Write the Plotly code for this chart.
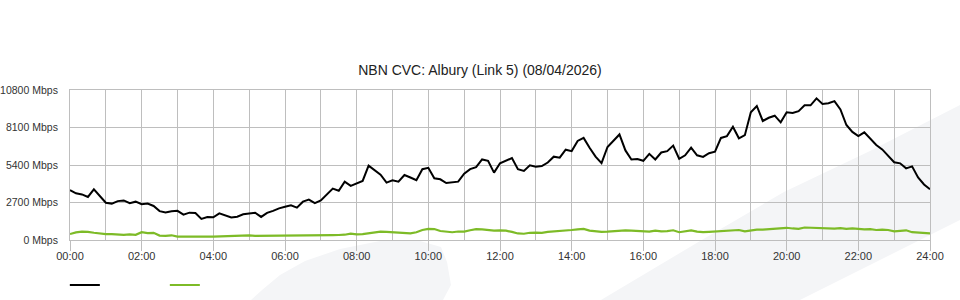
import plotly.graph_objects as go

# Time grid: 10-minute samples from 00:00 to 24:00 (hours)
step_minutes = 10
n_points = 145
hours = [i * step_minutes / 60 for i in range(n_points)]

tick_hours = [0, 2, 4, 6, 8, 10, 12, 14, 16, 18, 20, 22, 24]
tick_labels = ["00:00", "02:00", "04:00", "06:00", "08:00", "10:00", "12:00",
               "14:00", "16:00", "18:00", "20:00", "22:00", "24:00"]
y_ticks = [0, 2700, 5400, 8100, 10800]
y_tick_labels = ["0 Mbps", "2700 Mbps", "5400 Mbps", "8100 Mbps", "10800 Mbps"]

# Series 1 (black), Mbps
download = [
    3600, 3360, 3280, 3100, 3650, 3150,
    2680, 2620, 2800, 2850, 2650, 2760,
    2580, 2620, 2450, 2080, 1990, 2070,
    2100, 1830, 1970, 1940, 1520, 1650,
    1640, 1920, 1780, 1620, 1680, 1850,
    1900, 1960, 1660, 1950, 2100, 2280,
    2400, 2500, 2330, 2760, 2910, 2660,
    2850, 3300, 3700, 3550, 4200, 3900,
    4080, 4250, 5350, 5050, 4700, 4130,
    4300, 4200, 4680, 4500, 4300, 5100,
    5200, 4440, 4370, 4100, 4150, 4200,
    4780, 5100, 5250, 5800, 5700, 4850,
    5520, 5700, 5900, 5100, 4970, 5380,
    5280, 5320, 5580, 6000, 5930, 6500,
    6400, 7130, 7350, 6640, 6000, 5530,
    6700, 7150, 7600, 6450, 5800, 5830,
    5700, 6200, 5800, 6300, 6400, 6800,
    5850, 6100, 6650, 6100, 5980, 6250,
    6360, 7350, 7480, 8150, 7320, 7550,
    9200, 9650, 8570, 8800, 8950, 8470,
    9200, 9150, 9280, 9700, 9700, 10200,
    9800, 9850, 10000, 9400, 8280, 7780,
    7480, 7750, 7320, 6840, 6520, 6080,
    5600, 5520, 5160, 5300, 4500, 4000,
    3650,
]

# Series 2 (green), Mbps
upload = [
    430, 550, 600, 590, 520, 470,
    430, 430, 380, 370, 400, 370,
    560, 500, 520, 320, 300, 340,
    250, 240, 240, 240, 240, 240,
    250, 260, 300, 330, 330, 330,
    330, 300, 300, 340, 340, 320,
    330, 310, 310, 300, 320, 330,
    300, 340, 350, 360, 380, 460,
    400, 420, 470, 520, 600, 590,
    560, 560, 540, 480, 560, 720,
    800, 790, 650, 580, 560, 610,
    600, 700, 780, 760, 720, 680,
    700, 670, 580, 470, 450, 520,
    530, 520, 580, 610, 620, 700,
    720, 770, 800, 680, 620, 580,
    600, 650, 650, 700, 680, 650,
    620, 600, 680, 620, 640, 700,
    560, 620, 690, 600, 560, 580,
    600, 640, 650, 700, 720, 620,
    700, 750, 740, 780, 820, 880,
    880, 830, 800, 900, 880, 850,
    860, 850, 820, 860, 800, 830,
    780, 760, 780, 720, 740, 720,
    620, 680, 700, 560, 550, 520,
    480,
]

PLOT_L, PLOT_R, PLOT_T, PLOT_B = 70, 930, 90, 240
W, H = 960, 300


def px(x, y):
    """Convert page pixel position to paper coordinates (for decorations only)."""
    return ((x - PLOT_L) / (PLOT_R - PLOT_L), (PLOT_B - y) / (PLOT_B - PLOT_T))


def path(points):
    pts = [px(x, y) for x, y in points]
    return "M " + " L ".join(f"{a:.4f},{b:.4f}" for a, b in pts) + " Z"


band = path([(601, 300), (700, 241), (784, 192), (870, 151), (960, 105),
             (960, 220), (800, 300)])
blob = path([(251, 300), (262, 290), (280, 275), (305, 261), (340, 249),
             (380, 241), (420, 241), (441, 247), (447, 262), (451, 285),
             (443, 300)])

grid_col = "#bebebe"

fig = go.Figure()
fig.add_trace(go.Scatter(x=hours, y=download, mode="lines", name=" ",
                         line=dict(color="#000000", width=2)))
fig.add_trace(go.Scatter(x=hours, y=upload, mode="lines", name=" ",
                         line=dict(color="#7dbb27", width=2.2)))

fig.update_layout(
    width=W, height=H,
    margin=dict(l=PLOT_L, r=W - PLOT_R, t=PLOT_T, b=H - PLOT_B, autoexpand=False),
    paper_bgcolor="white",
    plot_bgcolor="rgba(0,0,0,0)",
    font=dict(family="Liberation Sans, Arial, sans-serif", size=11, color="#333333"),
    title=dict(text="NBN CVC: Albury (Link 5) (08/04/2026)",
               x=0.5, xanchor="center", y=1 - 70 / H, yanchor="middle",
               yref="container",
               font=dict(size=14, color="#222222")),
    showlegend=True,
    legend=dict(orientation="h", x=-0.006, xanchor="left",
                y=px(0, 285)[1], yanchor="middle",
                entrywidth=55, entrywidthmode="pixels",
                itemwidth=30, font=dict(size=1), bgcolor="rgba(0,0,0,0)"),
    shapes=[
        dict(type="path", path=band, xref="paper", yref="paper",
             fillcolor="#f4f5f7", line=dict(width=0), layer="below"),
        dict(type="path", path=blob, xref="paper", yref="paper",
             fillcolor="#f4f5f7", line=dict(width=0), layer="below"),
    ],
)

fig.update_xaxes(
    range=[0, 24], automargin=False,
    tickmode="array", tickvals=tick_hours, ticktext=tick_labels,
    ticks="outside", ticklen=10, tickcolor=grid_col, tickwidth=1,
    ticklabelstandoff=-4,
    showgrid=True, gridcolor=grid_col, gridwidth=1,
    minor=dict(dtick=1, tick0=0, showgrid=True, gridcolor=grid_col, gridwidth=1),
    showline=True, linecolor=grid_col, linewidth=1, mirror=True,
    zeroline=False, fixedrange=True,
)
fig.update_yaxes(
    range=[0, 10800], automargin=False,
    tickmode="array", tickvals=y_ticks, ticktext=y_tick_labels,
    tickfont=dict(size=10.5),
    ticks="", ticklabelstandoff=9,
    showgrid=True, gridcolor=grid_col, gridwidth=1,
    showline=True, linecolor=grid_col, linewidth=1, mirror=True,
    zeroline=False, fixedrange=True,
)

fig.write_html("out.html")
